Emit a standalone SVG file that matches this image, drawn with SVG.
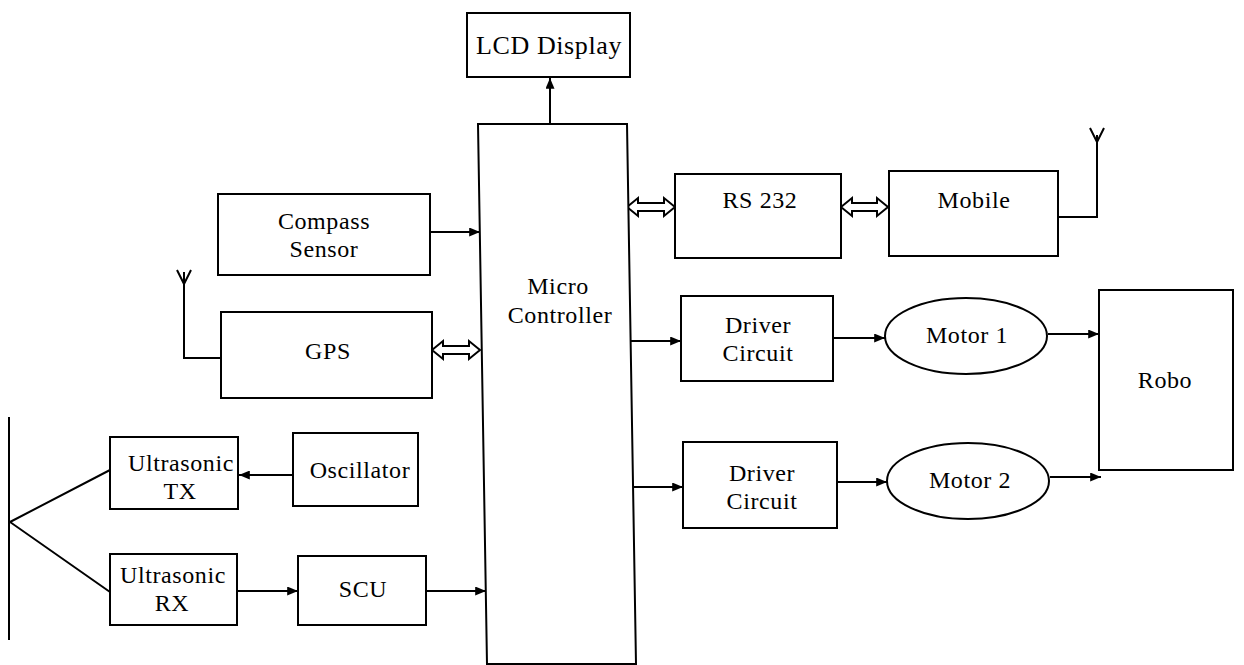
<svg xmlns="http://www.w3.org/2000/svg" width="1244" height="665" viewBox="0 0 1244 665">
<style>
.box{fill:#fff;stroke:#000;stroke-width:2}
.ln{fill:none;stroke:#000;stroke-width:2}
.dbl{fill:#fff;stroke:#000;stroke-width:2;stroke-linejoin:miter}
text{font-family:"Liberation Serif","Times New Roman",serif;font-size:24px;letter-spacing:0.6px;fill:#000;text-anchor:middle}
</style>
<defs>
<marker id="ah" viewBox="0 0 12 10" refX="12" refY="5" markerWidth="12" markerHeight="9" markerUnits="userSpaceOnUse" orient="auto">
<path d="M0,0 L12,5 L0,10 z" fill="#000"/>
</marker>
</defs>
<rect width="1244" height="665" fill="#fff"/>

<g id="connectors">
<line class="ln" x1="550" y1="124" x2="550" y2="78" marker-end="url(#ah)"/>
<line class="ln" x1="430" y1="232" x2="480" y2="232" marker-end="url(#ah)"/>
<polygon class="dbl" points="432,350 443,341 443,346 469,346 469,341 480,350 469,359 469,354 443,354 443,359"/>
<polygon class="dbl" points="627,207 638,198 638,203 664,203 664,198 675,207 664,216 664,211 638,211 638,216"/>
<polygon class="dbl" points="841,207 852,198 852,203 877,203 877,198 888,207 877,216 877,211 852,211 852,216"/>
<line class="ln" x1="293" y1="475" x2="239" y2="475" marker-end="url(#ah)"/>
<line class="ln" x1="237" y1="591" x2="298" y2="591" marker-end="url(#ah)"/>
<line class="ln" x1="426" y1="591" x2="486" y2="591" marker-end="url(#ah)"/>
<line class="ln" x1="631" y1="341" x2="681" y2="341" marker-end="url(#ah)"/>
<line class="ln" x1="833" y1="338" x2="885" y2="338" marker-end="url(#ah)"/>
<line class="ln" x1="1048" y1="334" x2="1099" y2="334" marker-end="url(#ah)"/>
<line class="ln" x1="633" y1="487" x2="683" y2="487" marker-end="url(#ah)"/>
<line class="ln" x1="837" y1="482" x2="887" y2="482" marker-end="url(#ah)"/>
<line class="ln" x1="1050" y1="477" x2="1101" y2="477" marker-end="url(#ah)"/>
<!-- GPS antenna -->
<polyline class="ln" points="221,358 184,358 184,272"/>
<polyline class="ln" points="177,270 184,284 191,270"/>
<!-- Mobile antenna -->
<polyline class="ln" points="1058,217 1097,217 1097,135"/>
<polyline class="ln" points="1090,128 1097,142 1104,128"/>
<!-- ultrasonic transducer -->
<line class="ln" x1="9" y1="417" x2="9" y2="640"/>
<polyline class="ln" points="110,470 10,522 110,592"/>
</g>

<g id="lcd">
<rect class="box" x="467" y="13" width="163" height="64"/>
<text x="549" y="54" style="font-size:26px">LCD Display</text>
</g>

<g id="micro">
<path class="box" d="M478,124 L627,124 L636,664 L487,664 Z"/>
<text x="558" y="294">Micro</text>
<text x="560" y="323">Controller</text>
</g>

<g id="compass">
<rect class="box" x="218" y="194" width="212" height="81"/>
<text x="324" y="229">Compass</text>
<text x="324" y="257">Sensor</text>
</g>

<g id="gps">
<rect class="box" x="221" y="312" width="211" height="86"/>
<text x="328" y="359">GPS</text>
</g>

<g id="utx">
<rect class="box" x="110" y="437" width="128" height="72"/>
<text x="181" y="471">Ultrasonic</text>
<text x="180" y="499">TX</text>
</g>

<g id="osc">
<rect class="box" x="293" y="433" width="125" height="73"/>
<text x="360" y="478">Oscillator</text>
</g>

<g id="urx">
<rect class="box" x="110" y="554" width="127" height="71"/>
<text x="173" y="583">Ultrasonic</text>
<text x="172" y="611">RX</text>
</g>

<g id="scu">
<rect class="box" x="298" y="556" width="128" height="69"/>
<text x="363" y="597">SCU</text>
</g>

<g id="rs232">
<rect class="box" x="675" y="174" width="166" height="84"/>
<text x="760" y="208">RS 232</text>
</g>

<g id="mobile">
<rect class="box" x="889" y="171" width="169" height="85"/>
<text x="974" y="208">Mobile</text>
</g>

<g id="driver1">
<rect class="box" x="681" y="296" width="152" height="85"/>
<text x="758" y="333">Driver</text>
<text x="758" y="361">Circuit</text>
</g>

<g id="motor1">
<ellipse class="box" cx="966" cy="336" rx="81" ry="38"/>
<text x="967" y="343">Motor 1</text>
</g>

<g id="driver2">
<rect class="box" x="683" y="442" width="154" height="86"/>
<text x="762" y="481">Driver</text>
<text x="762" y="509">Circuit</text>
</g>

<g id="motor2">
<ellipse class="box" cx="968" cy="481" rx="81" ry="38"/>
<text x="970" y="488">Motor 2</text>
</g>

<g id="robo">
<rect class="box" x="1099" y="290" width="134" height="180"/>
<text x="1165" y="388">Robo</text>
</g>
</svg>
